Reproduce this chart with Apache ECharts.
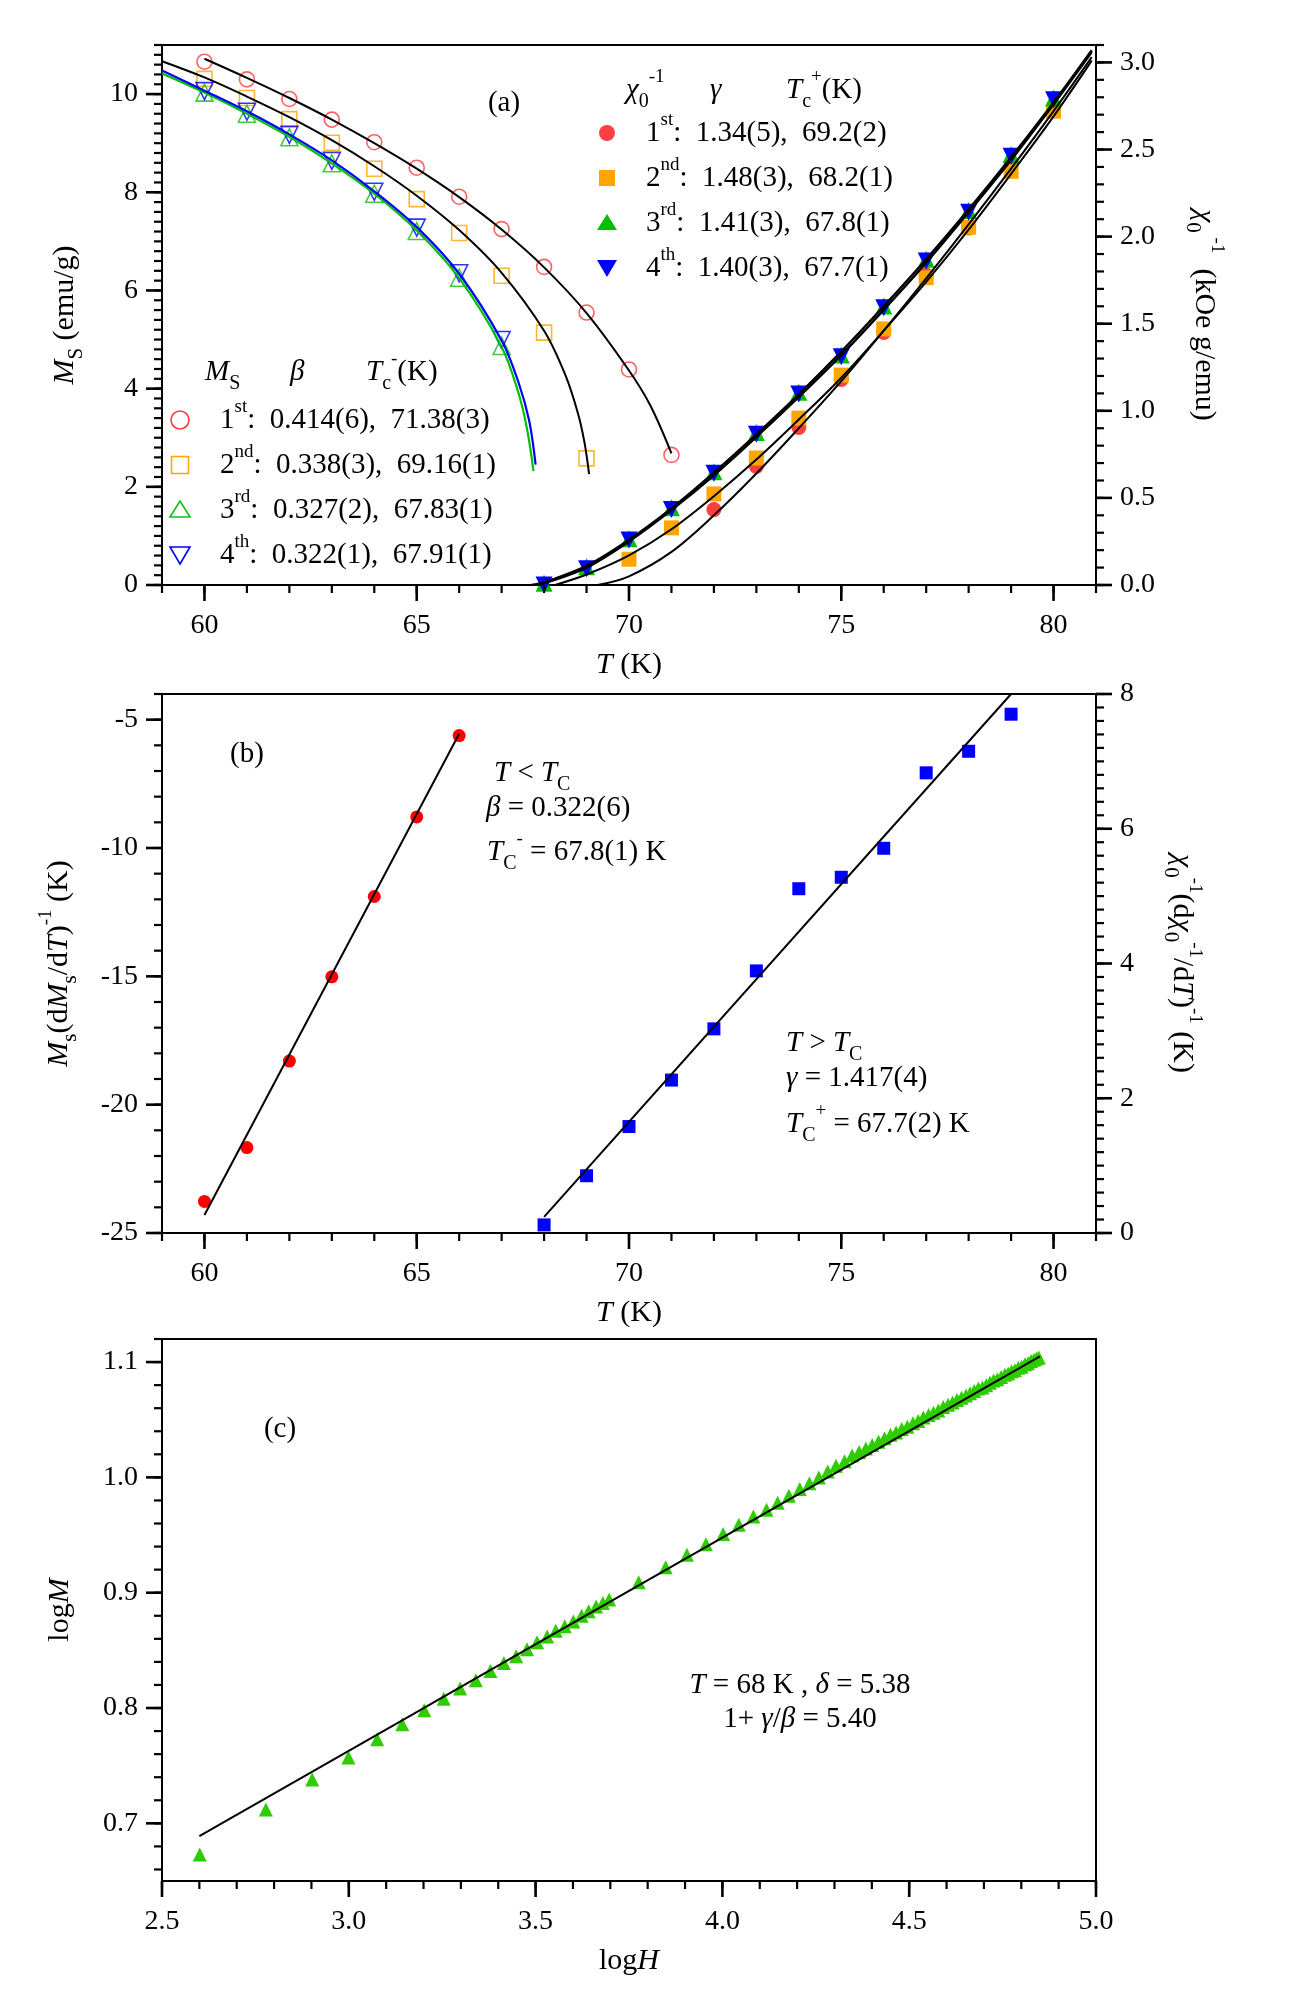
<!DOCTYPE html>
<html><head><meta charset="utf-8">
<script src="https://cdn.jsdelivr.net/npm/echarts@6/dist/echarts.min.js"></script>
<style>html,body{margin:0;padding:0;background:#fff}#c{width:1294px;height:2000px}</style>
</head><body><div id="c"></div>
<script>
// ---------------- DATA ----------------
// Panel (a) – spontaneous magnetisation Ms (left axis)
const msT1 = [60,61,62,63,64,65,66,67,68,69,70,71];
const ms1  = [10.66,10.30,9.90,9.48,9.02,8.50,7.91,7.25,6.48,5.55,4.39,2.65];
const msT2 = [60,61,62,63,64,65,66,67,68,69];
const ms2  = [10.31,9.92,9.49,9.01,8.48,7.86,7.17,6.30,5.14,2.58];
const msT34 = [60,61,62,63,64,65,66,67];
const ms3  = [10.03,9.60,9.12,8.59,7.97,7.21,6.26,4.87];
const ms4  = [10.06,9.64,9.17,8.64,8.01,7.28,6.35,4.99];
// fitted Ms curves
const fMsT1 = [60,61,62,63,64,65,66,67,68,69,70,70.5,71];
const fMs1  = [10.72,10.33,9.92,9.48,9.00,8.48,7.90,7.24,6.47,5.54,4.37,3.66,2.68];
const fMsT2 = [59,60,61,62,63,64,65,66,67,68,68.5,68.8,68.95,69.06];
const fMs2  = [10.67,10.34,9.95,9.53,9.06,8.53,7.93,7.23,6.36,5.18,4.28,3.49,2.91,2.26];
const fMsT3 = [59,60,61,62,63,64,65,66,67,67.4,67.6,67.75];
const fMs3  = [10.42,10.03,9.60,9.13,8.59,7.97,7.22,6.25,4.85,3.90,3.17,2.32];
const fMsT4 = [59,60,61,62,63,64,65,66,67,67.4,67.65,67.8];
const fMs4  = [10.48,10.07,9.65,9.18,8.65,8.02,7.29,6.34,4.98,4.12,3.34,2.45];
// Panel (a) – inverse susceptibility (right axis)
const chiT34 = [68,69,70,71,72,73,74,75,76,77,78,79,80];
const chi4 = [0.0,0.093,0.259,0.433,0.641,0.866,1.096,1.31,1.592,1.86,2.14,2.461,2.786];
const chi3 = [0.01,0.105,0.265,0.443,0.65,0.876,1.106,1.32,1.602,1.87,2.15,2.471,2.796];
const chiT2 = [70,71,72,73,74,75,76,77,78,79,80];
const chi2 = [0.148,0.328,0.523,0.729,0.958,1.205,1.47,1.764,2.054,2.375,2.72];
const chiT1 = [72,73,74,75,76,77,78,79,80];
const chi1 = [0.433,0.681,0.904,1.18,1.45,1.78,2.05,2.41,2.74];
const fChiT1 = [69.26,70,71,72,73,74,75,76,77,78,79,80,80.9];
const fChi1  = [0,0.05,0.19,0.40,0.64,0.90,1.17,1.46,1.76,2.07,2.39,2.72,3.03];
const fChiT2 = [68.26,69,70,71,72,73,74,75,76,77,78,79,80,80.9];
const fChi2  = [0,0.06,0.17,0.32,0.51,0.72,0.95,1.19,1.46,1.74,2.04,2.36,2.69,3.01];
const fChiT3 = [67.8,68,69,70,71,72,73,74,75,76,77,78,79,80,80.9];
const fChi3  = [0,0.01,0.10,0.25,0.43,0.63,0.85,1.08,1.32,1.58,1.85,2.14,2.44,2.76,3.06];
const fChiT4 = [67.7,68,69,70,71,72,73,74,75,76,77,78,79,80,80.9];
const fChi4  = [0,0.015,0.11,0.26,0.44,0.645,0.865,1.095,1.34,1.60,1.87,2.155,2.455,2.77,3.07];
// Panel (b) – Kouvel-Fisher
const kfT1 = [60,61,62,63,64,65,66];
const kf1  = [-23.77,-21.67,-18.30,-15.02,-11.89,-8.79,-5.62];
const kfFitT1 = [60,66];
const kfFit1  = [-24.3,-5.55];
const kfT2 = [68,69,70,71,72,73,74,75,76,77,78,79];
const kf2  = [0.12,0.85,1.58,2.27,3.03,3.89,5.11,5.28,5.71,6.83,7.15,7.70];
const kfFitT2 = [68,79];
const kfFit2  = [0.24,8.0];
// Panel (c) – critical isotherm
const logH = [2.601,2.778,2.902,2.999,3.076,3.143,3.202,3.254,3.298,3.340,3.379,3.415,3.448,3.477,3.504,3.531,3.554,3.578,3.601,3.623,3.642,3.662,3.680,3.697,
  3.776,3.848,3.905,3.956,4.002,4.044,4.083,4.118,4.148,4.178,4.207,4.233,4.258,4.282,4.304,4.327,4.347,
  4.366,4.384,4.401,4.418,4.434,4.450,4.465,4.480,4.495,4.510,4.524,4.538,4.552,4.565,4.578,4.591,4.604,4.616,4.628,4.640,4.652,4.663,4.674,4.685,4.696,4.706,4.716,4.726,4.736,4.746,4.756,4.765,4.774,4.783,4.792,4.801,4.810,4.818,4.826,4.834,4.841,4.847];
const logM = [0.673,0.712,0.738,0.757,0.773,0.786,0.798,0.808,0.817,0.824,0.832,0.839,0.845,0.851,0.857,0.862,0.867,0.871,0.875,0.880,0.884,0.888,0.891,0.894,
  0.909,0.922,0.933,0.942,0.951,0.959,0.966,0.972,0.978,0.984,0.990,0.995,1.000,1.005,1.010,1.014,1.019,
  1.022,1.025,1.028,1.031,1.034,1.037,1.039,1.042,1.044,1.047,1.049,1.052,1.054,1.056,1.058,1.061,1.063,1.065,1.067,1.069,1.071,1.073,1.075,1.077,1.078,1.080,1.082,1.084,1.085,1.087,1.089,1.090,1.092,1.093,1.095,1.096,1.098,1.099,1.101,1.102,1.103,1.104];
const cFitH = [2.6,4.85];
const cFitM = [0.689,1.105];
// tick settings [first tick, last tick, step]
const tMaj = [60,80,5], tMin = [59,81,1];
const msMaj = [0,10,2], msMin = [0,11,0.2];
const chiMaj = [0,3,0.5], chiMin = [0,3.1,0.1];
const kfLMaj = [-25,-5,5], kfLMin = [-25,-4,1];
const kfRMaj = [0,8,2], kfRMin = [0,8,0.2];
const hMaj = [2.5,5,0.5], hMin = [2.5,5,0.1];
const mMaj = [0.7,1.1,0.1], mMin = [0.66,1.12,0.02];
// legend texts
const ords = ['st','nd','rd','th'];
const chiTxt = ['1.34(5),  69.2(2)','1.48(3),  68.2(1)','1.41(3),  67.8(1)','1.40(3),  67.7(1)'];
const msTxt = ['0.414(6),  71.38(3)','0.338(3),  69.16(1)','0.327(2),  67.83(1)','0.322(1),  67.91(1)'];

// ---------------- HELPERS ----------------
const FF = 'Liberation Serif';
const RED='#ff4040', ORG='#ffa500', GRN='#12c012', BLU='#0000ff';
function zip(a,b){return a.map((v,i)=>[v,b[i]]);}
function steps(tk){const o=[];const n=Math.round((tk[1]-tk[0])/tk[2]);for(let i=0;i<=n;i++)o.push(Math.round((tk[0]+i*tk[2])*1e6)/1e6);return o;}
function R(size){
  const base={fontFamily:FF,fontSize:size,lineHeight:44,color:'#000',fill:'#000'};
  return {
    n:Object.assign({},base),
    it:Object.assign({},base,{fontStyle:'italic'}),
    sup:{fontFamily:FF,fontSize:Math.round(size*0.64),lineHeight:16,verticalAlign:'top',color:'#000',fill:'#000'},
    supH:{fontFamily:FF,fontSize:Math.round(size*0.64),lineHeight:6,verticalAlign:'top',color:'#000',fill:'#000'},
    sub:{fontFamily:FF,fontSize:Math.round(size*0.7),lineHeight:26,verticalAlign:'bottom',color:'#000',fill:'#000'}
  };
}
const labStyle={fontFamily:FF,fontSize:28,color:'#000'};
const f1=v=>Number(v).toFixed(1);
const f0=v=>String(v);

// ---------------- LAYOUT ----------------
const L=162, W=934;
const P=[
  {top:45,height:540,x:[59,81],yl:[0,11],yr:[0,3.1]},
  {top:694,height:539,x:[59,81],yl:[-25,-4],yr:[0,8]},
  {top:1339,height:542,x:[2.5,5.0],yl:[0.65,1.12]}
];
const box={show:true,borderColor:'#000',borderWidth:2,backgroundColor:'rgba(0,0,0,0)'};
const grids=[], xAxes=[], yAxes=[];

function mainAxis(grid,ext,pos,name,gap,rot){
  const a={type:'value',gridIndex:grid,min:ext[0],max:ext[1],position:pos,
    axisLine:{show:true,onZero:false,lineStyle:{color:'#000',width:2}},
    axisTick:{show:false},axisLabel:{show:false},splitLine:{show:false}};
  if(name){a.name=name;a.nameLocation='middle';a.nameGap=gap;
    a.nameTextStyle={fontFamily:FF,fontSize:30,color:'#000',rich:R(30)};
    if(rot!==undefined)a.nameRotate=rot;}
  return a;
}
function hidden(grid){return {type:'value',gridIndex:grid,min:0,max:1,show:false,axisLine:{onZero:false}};}
// label strip: a thin grid just outside an axis that carries the major tick labels
function labelStrip(p,side,tk,fmt){
  const gi=grids.length, len=16;
  const ax={type:'value',gridIndex:gi,min:tk[0],max:tk[1],interval:tk[2],
    axisLine:{show:false,onZero:false},axisTick:{show:false},splitLine:{show:false},
    axisLabel:Object.assign({show:true,formatter:fmt},labStyle)};
  if(side==='bottom'){
    const sx=W/(p.x[1]-p.x[0]);
    grids.push({left:L+(tk[0]-p.x[0])*sx,width:(tk[1]-tk[0])*sx,top:p.top+p.height,height:len,show:false});
    ax.position='bottom'; ax.axisLabel.margin=27-len;
    xAxes.push(ax); yAxes.push(hidden(gi));
  } else {
    const ext=side==='left'?p.yl:p.yr;
    const sy=p.height/(ext[1]-ext[0]);
    grids.push({left:side==='left'?L-len:L+W,width:len,top:p.top+(ext[1]-tk[1])*sy,height:(tk[1]-tk[0])*sy,show:false});
    ax.position=side; ax.axisLabel.margin=24-len;
    yAxes.push(ax); xAxes.push(hidden(gi));
  }
}

// main grids 0..2 and their data axes (x 0..2, y 0..4)
P.forEach(p=>grids.push(Object.assign({left:L,top:p.top,width:W,height:p.height},box)));
xAxes.push(mainAxis(0,P[0].x,'bottom','{it|T} {n|(K)}',58));
xAxes.push(mainAxis(1,P[1].x,'bottom','{it|T} {n|(K)}',58));
xAxes.push(mainAxis(2,P[2].x,'bottom','{n|log}{it|H}',58));
yAxes.push(mainAxis(0,P[0].yl,'left','{it|M}{sub|S}{n| (emu/g)}',75));
yAxes.push(mainAxis(0,P[0].yr,'right','{it|χ}{sub|0}{sup| -1}{n|  (kOe g/emu)}',86,-90));
yAxes.push(mainAxis(1,P[1].yl,'left','{it|M}{sub|s}{n|(d}{it|M}{sub|s}{n|/d}{it|T}{n|)}{sup|-1}{n| (K)}',81));
yAxes.push(mainAxis(1,P[1].yr,'right','{it|χ}{sub|0}{sup|-1}{n|(d}{it|χ}{sub|0}{sup|-1}{n|/d}{it|T}{n|)}{sup|-1}{n| (K)}',64,-90));
yAxes.push(mainAxis(2,P[2].yl,'left','{n|log}{it|M}',80));
// major tick labels
labelStrip(P[0],'bottom',tMaj,f0); labelStrip(P[0],'left',msMaj,f0); labelStrip(P[0],'right',chiMaj,f1);
labelStrip(P[1],'bottom',tMaj,f0); labelStrip(P[1],'left',kfLMaj,f0); labelStrip(P[1],'right',kfRMaj,f0);
labelStrip(P[2],'bottom',hMaj,f1); labelStrip(P[2],'left',mMaj,f1);

// tick marks drawn through the axes' own scales (custom series, outside the plot area)
function ticks(name,xi,yi,side,vals,edge,len,w){
  return {type:'custom',name:name,xAxisIndex:xi,yAxisIndex:yi,clip:false,silent:true,z:6,
    data:vals.map(v=>[v,v]),
    renderItem:function(params,api){
      const v=api.value(0);
      if(side==='bottom'){const p=api.coord([v,edge]);
        return {type:'rect',shape:{x:p[0]-w/2,y:p[1],width:w,height:len},style:{fill:'#000'}};}
      const p=api.coord([edge,v]);
      if(side==='left')return {type:'rect',shape:{x:p[0]-len,y:p[1]-w/2,width:len,height:w},style:{fill:'#000'}};
      return {type:'rect',shape:{x:p[0],y:p[1]-w/2,width:len,height:w},style:{fill:'#000'}};
    }};
}
const MAJ=16, MIN=8, WMAJ=2.6, WMIN=2.2;
const tickSeries=[
  ticks('a x minor',0,0,'bottom',steps(tMin),P[0].yl[0],MIN,WMIN), ticks('a x major',0,0,'bottom',steps(tMaj),P[0].yl[0],MAJ,WMAJ),
  ticks('a yl minor',0,0,'left',steps(msMin),P[0].x[0],MIN,WMIN),  ticks('a yl major',0,0,'left',steps(msMaj),P[0].x[0],MAJ,WMAJ),
  ticks('a yr minor',0,1,'right',steps(chiMin),P[0].x[1],MIN,WMIN),ticks('a yr major',0,1,'right',steps(chiMaj),P[0].x[1],MAJ,WMAJ),
  ticks('b x minor',1,2,'bottom',steps(tMin),P[1].yl[0],MIN,WMIN), ticks('b x major',1,2,'bottom',steps(tMaj),P[1].yl[0],MAJ,WMAJ),
  ticks('b yl minor',1,2,'left',steps(kfLMin),P[1].x[0],MIN,WMIN), ticks('b yl major',1,2,'left',steps(kfLMaj),P[1].x[0],MAJ,WMAJ),
  ticks('b yr minor',1,3,'right',steps(kfRMin),P[1].x[1],MIN,WMIN),ticks('b yr major',1,3,'right',steps(kfRMaj),P[1].x[1],MAJ,WMAJ),
  ticks('c x minor',2,4,'bottom',steps(hMin),P[2].yl[0],MIN,WMIN), ticks('c x major',2,4,'bottom',steps(hMaj),P[2].yl[0],MAJ,WMAJ),
  ticks('c y minor',2,4,'left',steps(mMin),P[2].x[0],MIN,WMIN),    ticks('c y major',2,4,'left',steps(mMaj),P[2].x[0],MAJ,WMAJ)
];

function scatter(name,x,y,xi,yi,sym,size,color,open,rot){
  return {type:'scatter',name:name,xAxisIndex:xi,yAxisIndex:yi,data:zip(x,y),symbol:sym,symbolSize:size,
    symbolRotate:rot||0,z:3,
    itemStyle:open?{color:'rgba(255,255,255,0)',borderColor:color,borderWidth:1.6}:{color:color,opacity:1},
    emphasis:{disabled:true}};
}
function fit(name,x,y,xi,yi,color,w){
  return {type:'line',name:name,xAxisIndex:xi,yAxisIndex:yi,data:zip(x,y),showSymbol:false,symbol:'none',
    smooth:0.35,z:4,lineStyle:{color:color,width:w},emphasis:{disabled:true}};
}
function txt(x,y,text,align,size){
  size=size||29;
  return {type:'text',x:x,y:y,z:50,style:{text:text,rich:R(size),font:size+'px "'+FF+'"',fill:'#000',
    align:align||'left',textAlign:align||'left',verticalAlign:'middle',textVerticalAlign:'middle'}};
}
function mark(kind,cx,cy,color,open){
  const st=open?{fill:'none',stroke:color,lineWidth:1.6}:{fill:color};
  if(kind==='circle')return {type:'circle',z:50,shape:{cx:cx,cy:cy,r:open?9:8},style:st};
  if(kind==='rect'){const s=open?17:16;return {type:'rect',z:50,shape:{x:cx-s/2,y:cy-s/2,width:s,height:s},style:st};}
  if(kind==='up')return {type:'polygon',z:50,shape:{points:[[cx,cy-9],[cx+10,cy+7],[cx-10,cy+7]]},style:st};
  return {type:'polygon',z:50,shape:{points:[[cx,cy+9],[cx+10,cy-8],[cx-10,cy-8]]},style:st};
}

const option={
  animation:false,
  backgroundColor:'#fff',
  textStyle:{fontFamily:FF},
  grid:grids,
  xAxis:xAxes,
  yAxis:yAxes,
  series:[
    // panel a, Ms (open)
    scatter('Ms 1st',msT1,ms1,0,0,'circle',15,'#ff3b3b',true),
    scatter('Ms 2nd',msT2,ms2,0,0,'rect',15,ORG,true),
    scatter('Ms 3rd',msT34,ms3,0,0,'triangle',17,GRN,true),
    scatter('Ms 4th',msT34,ms4,0,0,'triangle',17,BLU,true,180),
    fit('Ms fit 1st',fMsT1,fMs1,0,0,'#000',2),
    fit('Ms fit 2nd',fMsT2,fMs2,0,0,'#000',2),
    fit('Ms fit 3rd',fMsT3,fMs3,0,0,'#00c000',2.2),
    fit('Ms fit 4th',fMsT4,fMs4,0,0,'#0000ff',2.2),
    // panel a, chi^-1 (filled)
    scatter('chi 1st',chiT1,chi1,0,1,'circle',15,RED,false),
    scatter('chi 2nd',chiT2,chi2,0,1,'rect',15,ORG,false),
    scatter('chi 3rd',chiT34,chi3,0,1,'triangle',17,'#00c000',false),
    scatter('chi 4th',chiT34,chi4,0,1,'triangle',17,BLU,false,180),
    fit('chi fit 1st',fChiT1,fChi1,0,1,'#000',2),
    fit('chi fit 2nd',fChiT2,fChi2,0,1,'#000',2),
    fit('chi fit 3rd',fChiT3,fChi3,0,1,'#000',2.4),
    fit('chi fit 4th',fChiT4,fChi4,0,1,'#000',2.4),
    // panel b
    scatter('KF below',kfT1,kf1,1,2,'circle',13,'#ff0000',false),
    fit('KF fit below',kfFitT1,kfFit1,1,2,'#000',2),
    scatter('KF above',kfT2,kf2,1,3,'rect',13,'#0000ff',false),
    fit('KF fit above',kfFitT2,kfFit2,1,3,'#000',2),
    // panel c
    scatter('isotherm',logH,logM,2,4,'triangle',14,'#2ecc00',false),
    fit('isotherm fit',cFitH,cFitM,2,4,'#000',2)
  ].concat(tickSeries),
  graphic:[]
};

// legends & annotations
const G=option.graphic;
G.push(txt(504,103,'{n|(a)}','center'));
// right legend (chi)
G.push(txt(626,90,'{it|χ}{sub|0}{supH|-1}','left'));
G.push(txt(710,90,'{it|γ}','left'));
G.push(txt(786,90,'{it|T}{sub|c}{supH|+}{n|(K)}','left'));
const chiMk=[['circle',RED],['rect',ORG],['up','#00c000'],['down',BLU]];
[133,178,223,268].forEach((y,i)=>{
  G.push(mark(chiMk[i][0],607,y,chiMk[i][1],false));
  G.push(txt(646,y,'{n|'+(i+1)+'}{sup|'+ords[i]+'}{n|:  '+chiTxt[i]+'}','left'));
});
// left legend (Ms)
G.push(txt(205,372,'{it|M}{sub|S}','left'));
G.push(txt(290,372,'{it|β}','left'));
G.push(txt(366,372,'{it|T}{sub|c}{supH|-}{n|(K)}','left'));
const msMk=[['circle','#ff3b3b'],['rect',ORG],['up',GRN],['down',BLU]];
[420,465,510,555].forEach((y,i)=>{
  G.push(mark(msMk[i][0],180,y,msMk[i][1],true));
  G.push(txt(220,y,'{n|'+(i+1)+'}{sup|'+ords[i]+'}{n|:  '+msTxt[i]+'}','left'));
});
// panel b
G.push(txt(247,754,'{n|(b)}','center'));
G.push(txt(494,773,'{it|T}{n| < }{it|T}{sub|C}','left'));
G.push(txt(486,808,'{it|β}{n| = 0.322(6)}','left'));
G.push(txt(487,852,'{it|T}{sub|C}{supH|-}{n| = 67.8(1) K}','left'));
G.push(txt(786,1043,'{it|T}{n| > }{it|T}{sub|C}','left'));
G.push(txt(786,1078,'{it|γ}{n| = 1.417(4)}','left'));
G.push(txt(786,1124,'{it|T}{sub|C}{supH|+}{n| = 67.7(2) K}','left'));
// panel c
G.push(txt(280,1429,'{n|(c)}','center'));
G.push(txt(800,1685,'{it|T}{n| = 68 K , }{it|δ}{n| = 5.38}','center'));
G.push(txt(800,1719,'{n|1+ }{it|γ}{n|/}{it|β}{n| = 5.40}','center'));

const chart=echarts.init(document.getElementById('c'),null,{renderer:'canvas',width:1294,height:2000});
chart.setOption(option);
</script></body></html>
